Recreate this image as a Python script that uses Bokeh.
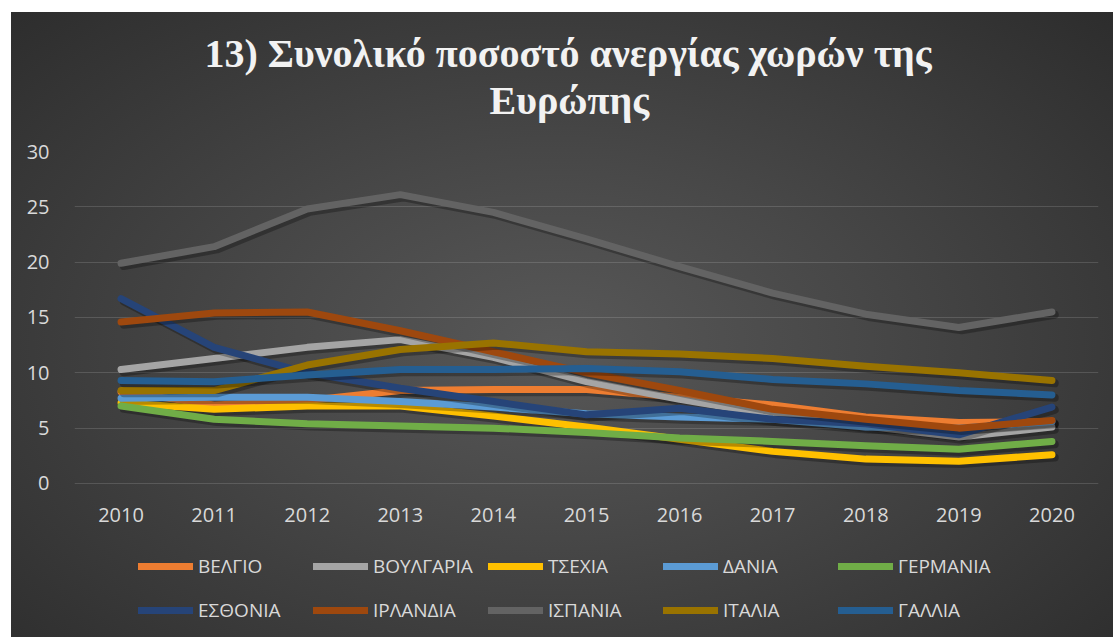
from bokeh.plotting import figure
from bokeh.models import Range1d, FixedTicker, Legend, LegendItem, Title, ColumnDataSource
from bokeh.transform import dodge
from bokeh.embed import file_html
from bokeh.resources import INLINE

years = [2010, 2011, 2012, 2013, 2014, 2015, 2016, 2017, 2018, 2019, 2020]

countries = ["ΒΕΛΓΙΟ", "ΒΟΥΛΓΑΡΙΑ", "ΤΣΕΧΙΑ", "ΔΑΝΙΑ", "ΓΕΡΜΑΝΙΑ",
             "ΕΣΘΟΝΙΑ", "ΙΡΛΑΝΔΙΑ", "ΙΣΠΑΝΙΑ", "ΙΤΑΛΙΑ", "ΓΑΛΛΙΑ"]

belgium = [8.3, 7.1, 7.5, 8.4, 8.5, 8.5, 7.8, 7.1, 6.0, 5.5, 5.6]
bulgaria = [10.3, 11.3, 12.3, 13.0, 11.4, 9.2, 7.6, 6.2, 5.2, 4.2, 5.1]
czechia = [7.3, 6.7, 7.0, 7.0, 6.1, 5.1, 4.0, 2.9, 2.2, 2.0, 2.6]
denmark = [7.7, 7.8, 7.8, 7.4, 6.9, 6.3, 6.0, 5.8, 5.1, 5.0, 5.6]
germany = [7.0, 5.8, 5.4, 5.2, 5.0, 4.6, 4.1, 3.8, 3.4, 3.1, 3.8]
estonia = [16.7, 12.3, 10.0, 8.6, 7.4, 6.2, 6.8, 5.8, 5.4, 4.4, 6.9]
ireland = [14.6, 15.4, 15.5, 13.8, 11.9, 10.0, 8.4, 6.7, 5.8, 5.0, 5.7]
spain = [19.9, 21.4, 24.8, 26.1, 24.5, 22.1, 19.6, 17.2, 15.3, 14.1, 15.5]
italy = [8.4, 8.4, 10.7, 12.1, 12.7, 11.9, 11.7, 11.3, 10.6, 10.0, 9.3]
france = [9.3, 9.2, 9.8, 10.3, 10.3, 10.4, 10.1, 9.4, 9.0, 8.4, 8.0]

series = [belgium, bulgaria, czechia, denmark, germany,
          estonia, ireland, spain, italy, france]

colors = ["#ED7D31", "#A5A5A5", "#FFC000", "#5B9BD5", "#70AD47",
          "#264478", "#9E480E", "#636363", "#997300", "#255E91"]

y_ticks = [0, 5, 10, 15, 20, 25, 30]

# frame spans from the 30 gridline down to the bottom of the chart; the
# x axis is pinned at 0 and the legend sits in the lower part of the frame
p = figure(width=1113, height=637, output_backend="svg", toolbar_location=None,
           x_range=Range1d(2009.5, 2020.5), y_range=Range1d(-13.92, 30),
           min_border_left=74, min_border_right=15, min_border_top=151,
           min_border_bottom=0)

p.styles = {"background": (
    "linear-gradient(#ffffff, #ffffff) top left / 100% 12px no-repeat, "
    "linear-gradient(#ffffff, #ffffff) top left / 11px 100% no-repeat, "
    "radial-gradient(ellipse at 50% 54%, #585858 0%, #474747 40%, #2c2c2c 100%)")}
p.border_fill_alpha = 0
p.background_fill_alpha = 0
p.outline_line_color = None

title_font = "Liberation Serif"
p.title.text = "13) Συνολικό ποσοστό ανεργίας χωρών της"
p.title.align = "left"
p.title.offset = 130
p.title.text_font = title_font
p.title.text_font_style = "bold"
p.title.text_font_size = "40px"
p.title.text_color = "#f2f2f2"
p.title.standoff = 0

# empty spacer between the title lines and the plot area (closest to the plot)
spacer = Title(text=" ", text_font=title_font, text_font_size="25px", standoff=0)
p.add_layout(spacer, "above")

t2 = Title(text="Ευρώπης", align="left", offset=415,
           text_font=title_font, text_font_style="bold",
           text_font_size="40px", text_color="#f2f2f2", standoff=0)
p.add_layout(t2, "above")

p.xgrid.grid_line_color = None
p.ygrid.grid_line_color = "#ffffff"
p.ygrid.grid_line_alpha = 0.14
p.ygrid.grid_line_width = 1

p.xaxis.ticker = FixedTicker(ticks=years)
p.xaxis.fixed_location = 0
p.yaxis.ticker = FixedTicker(ticks=y_ticks)
for ax in (p.xaxis, p.yaxis):
    ax.axis_line_color = None
    ax.major_tick_line_color = None
    ax.minor_tick_line_color = None
    ax.major_label_text_font = "Open Sans"
    ax.major_label_text_font_size = "20px"
    ax.major_label_text_color = "#d9d9d9"
p.xaxis.major_label_standoff = 19
p.yaxis.major_label_standoff = 19

items = []
for name, vals, col in zip(countries, series, colors):
    src = ColumnDataSource(data=dict(x=years, y=vals))
    p.line(x=dodge("x", 0.03, range=p.x_range), y=dodge("y", -0.25, range=p.y_range),
           source=src, line_color="black", line_alpha=0.28, line_width=8,
           line_cap="round", line_join="round")
    r = p.line(x="x", y="y", source=src, line_color=col, line_width=7,
               line_cap="round", line_join="round")
    items.append(LegendItem(label=name, renderers=[r]))

legend = Legend(items=items, orientation="horizontal", ncols=5,
                location=(64, 5), glyph_width=55, glyph_height=44,
                label_height=44, label_width=115, label_standoff=5, spacing=0,
                padding=0, margin=0,
                label_text_font="Open Sans", label_text_font_size="19px",
                label_text_color="#d9d9d9",
                border_line_color=None, background_fill_alpha=0)
p.add_layout(legend, "center")

open("out.html", "w").write(file_html(p, INLINE))
